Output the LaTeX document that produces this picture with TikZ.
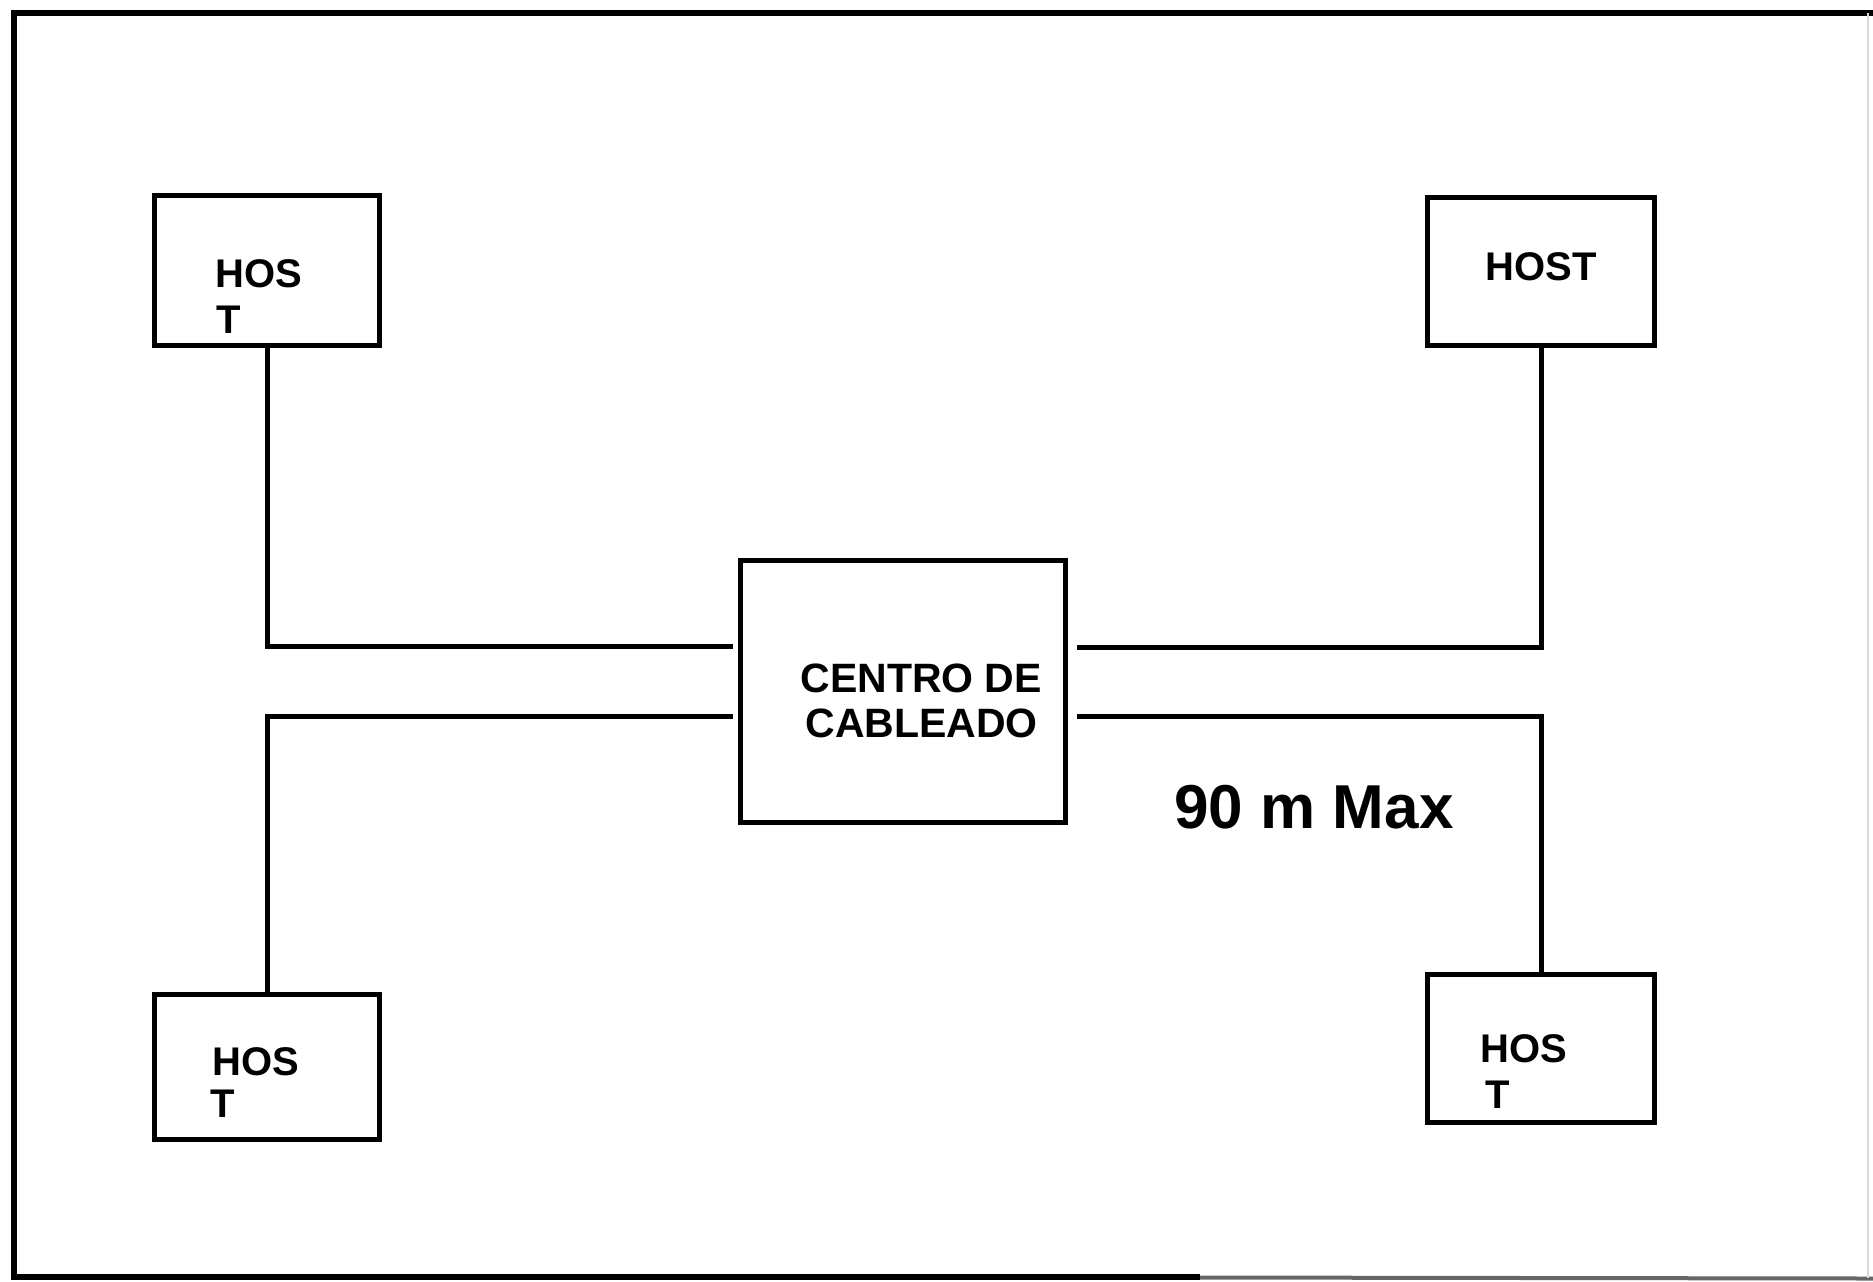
\documentclass[tikz,border=0pt]{standalone}
\usepackage{fontspec}
\setmainfont{Liberation Sans}
\begin{document}
\begin{tikzpicture}[x=0.5pt,y=-0.5pt,line width=2.5pt,
  box/.style={draw,rectangle,inner sep=0pt},
  lbl/.style={font=\bfseries\fontsize{20}{24}\selectfont,anchor=base west,inner sep=0pt},
  big/.style={font=\bfseries\fontsize{31}{36}\selectfont,anchor=base west,inner sep=0pt}]
\useasboundingbox (0,0) rectangle (1873,1281);
% frame
\draw[line width=3pt] (1873,13) -- (14,13) -- (14,1277) -- (1200,1277);
\draw[line width=2pt,black!60] (1200,1277.5) -- (1873,1278.5);
\draw[line width=0.8pt,black!15] (1868,13) -- (1868,1278);
% boxes
\node[box,minimum width=112.5pt,minimum height=75pt] (tl) at (267,270) {};
\node[box,minimum width=113.5pt,minimum height=74pt] (tr) at (1541,271.5) {};
\node[box,minimum width=112.5pt,minimum height=72.5pt] (bl) at (267,1067) {};
\node[box,minimum width=113.5pt,minimum height=74pt] (br) at (1541,1048.5) {};
\node[box,minimum width=162.5pt,minimum height=131pt] (hub) at (903,691.5) {};
% connector ends near hub
\coordinate (hl1) at (733,646);
\coordinate (hl2) at (733,716);
\coordinate (hr1) at (1077,647);
\coordinate (hr2) at (1077,716);
\draw (tl.south) |- (hl1);
\draw (bl.north) |- (hl2);
\draw (tr.south) |- (hr1);
\draw (br.north) |- (hr2);
% labels
\node[lbl] (tla) at (213,287) {HOS};
\node[lbl] (tlb) at (214,333) {T};
\node[lbl] (tra) at (1483,280) {HOST};
\node[lbl] (bla) at (210,1075) {HOS};
\node[lbl] (blb) at (208,1117) {T};
\node[lbl] (bra) at (1478,1062) {HOS};
\node[lbl] (brb) at (1483,1108) {T};
\node[lbl,font=\bfseries\fontsize{20.5}{24}\selectfont] (hua) at (798,692) {CENTRO DE};
\node[lbl,font=\bfseries\fontsize{20.5}{24}\selectfont] (hub2) at (803,737) {CABLEADO};
\node[big] (max) at (1172,828) {90 m Max};
\end{tikzpicture}
\end{document}
